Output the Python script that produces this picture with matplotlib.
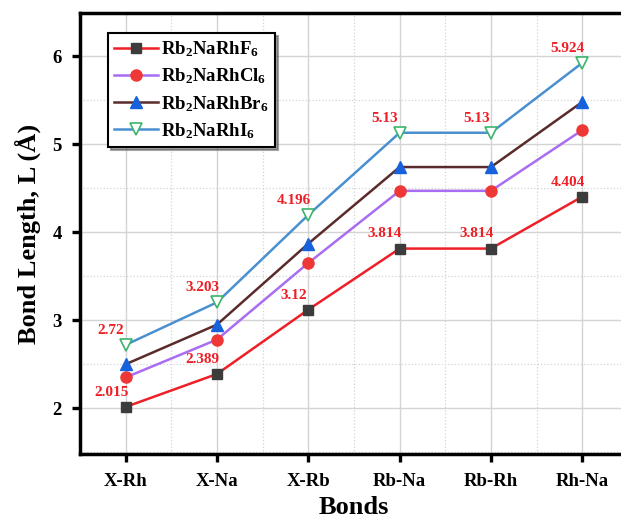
import matplotlib
matplotlib.use("Agg")
import matplotlib.pyplot as plt
from matplotlib.ticker import MultipleLocator

plt.rcParams["font.family"] = "Liberation Serif"
plt.rcParams["font.weight"] = "bold"
plt.rcParams["mathtext.fontset"] = "custom"
plt.rcParams["mathtext.rm"] = "Liberation Serif:bold"
plt.rcParams["mathtext.it"] = "Liberation Serif:bold"
plt.rcParams["mathtext.bf"] = "Liberation Serif:bold"

bonds = ["X-Rh", "X-Na", "X-Rb", "Rb-Na", "Rb-Rh", "Rh-Na"]
rb2narhf6 = [2.015, 2.389, 3.12, 3.814, 3.814, 4.404]
rb2narhcl6 = [2.35, 2.78, 3.65, 4.47, 4.47, 5.16]
rb2narhbr6 = [2.50, 2.95, 3.87, 4.74, 4.74, 5.48]
rb2narhi6 = [2.72, 3.203, 4.196, 5.13, 5.13, 5.924]

series = [
    (rb2narhf6, r"Rb$_2$NaRhF$_6$", "#ee1f26", dict(marker="s", markersize=6.5, markerfacecolor="#3c3c3c", markeredgecolor="#3c3c3c")),
    (rb2narhcl6, r"Rb$_2$NaRhCl$_6$", "#a86df0", dict(marker="o", markersize=8, markerfacecolor="#ee3838", markeredgecolor="#ee3838")),
    (rb2narhbr6, r"Rb$_2$NaRhBr$_6$", "#5a2b2b", dict(marker="^", markersize=8, markerfacecolor="#1762dc", markeredgecolor="#1762dc")),
    (rb2narhi6, r"Rb$_2$NaRhI$_6$", "#4a90d0", dict(marker="v", markersize=8, markerfacecolor="white", markeredgecolor="#3cb46a", markeredgewidth=1.2)),
]

fig = plt.figure(figsize=(6.21, 5.25), dpi=100)
ax = fig.add_axes([0.1288, 0.1352, 0.8824, 0.84])

x = list(range(len(bonds)))
for vals, label, color, mk in series:
    ax.plot(x, vals, color=color, linewidth=1.8, label=label, zorder=3, **mk)

# value labels for the smallest and largest halides
for vals in (rb2narhf6, rb2narhi6):
    for xi, v in zip(x, vals):
        ax.annotate(f"{v:g}", (xi, v), xytext=(-10.5, 10.5), textcoords="offset points",
                    ha="center", va="center", color="#ee1f26", fontsize=11,
                    fontweight="bold", zorder=4)

ax.set_xlim(-0.5, 5.5)
ax.set_ylim(1.48, 6.49)
ax.set_xticks(x)
ax.set_xticklabels(bonds)
ax.xaxis.set_minor_locator(MultipleLocator(0.5))
ax.yaxis.set_major_locator(MultipleLocator(1))
ax.yaxis.set_minor_locator(MultipleLocator(0.5))
ax.grid(which="major", color="#d4d4d4", linewidth=1.0, zorder=0)
ax.grid(which="minor", color="#d4d4d4", linewidth=0.9, linestyle=":", zorder=0)
ax.set_axisbelow(True)

ax.tick_params(which="major", direction="out", length=6, width=2.4, labelsize=13.5)
ax.tick_params(axis="x", pad=8)
ax.tick_params(axis="y", pad=7)
ax.tick_params(which="minor", length=0)
for s in ax.spines.values():
    s.set_linewidth(2.5)

ax.set_xlabel("Bonds", fontsize=19, fontweight="bold", labelpad=4)
ax.set_ylabel("Bond Length, L (Å)", fontsize=19, fontweight="bold", labelpad=8)

leg = ax.legend(loc="upper left", bbox_to_anchor=(0.051, 0.955), borderaxespad=0,
                fancybox=False, shadow=True, edgecolor="black", framealpha=1,
                fontsize=13.5, handlelength=2.3, handletextpad=0.2,
                labelspacing=0.4, borderpad=0.35)
leg.get_frame().set_linewidth(1.5)

fig.savefig("out.png", dpi=100)
